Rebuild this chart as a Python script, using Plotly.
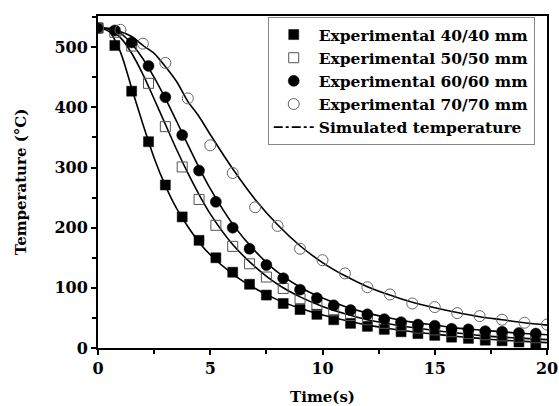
import plotly.graph_objects as go

# Measured cooling data (time in s, temperature in °C)
t_fine = [0, 0.75, 1.5, 2.25, 3.0, 3.75, 4.5, 5.25, 6.0, 6.75, 7.5, 8.25, 9.0, 9.75,
          10.5, 11.25, 12.0, 12.75, 13.5, 14.25, 15.0, 15.75, 16.5, 17.25, 18.0,
          18.75, 19.5]
exp_40 = [532, 503, 427, 343, 271, 218, 179, 150, 126, 106, 88, 74, 64, 56, 47, 41,
          36, 31, 27, 24, 21, 18, 16, 13, 12, 10, 8]
exp_50 = [532, 525, 502, 440, 368, 301, 247, 204, 169, 140, 118, 99, 82, 71, 62, 54,
          47, 41, 37, 33, 30, 27, 24, 22, 20, 18, 17]
exp_60 = [532, 528, 508, 469, 417, 354, 295, 243, 200, 165, 138, 116, 97, 83, 71, 63,
          56, 48, 43, 39, 37, 32, 31, 28, 27, 25, 24]

t_coarse = [0, 1, 2, 3, 4, 5, 6, 7, 8, 9, 10, 11, 12, 13, 14, 15, 16, 17, 18, 19, 20]
exp_70 = [532, 529, 506, 474, 415, 337, 291, 234, 203, 165, 146, 124, 101, 89, 74,
          68, 58, 53, 47, 42, 39]

# Simulated temperature curves
t_sim = [0, 0.5, 1, 1.5, 2, 2.5, 3, 3.5, 4, 4.5, 5, 6, 7, 8, 9, 10, 11, 12, 13, 14,
         15, 16, 17, 18, 19, 20]
sim_40 = [532, 526, 492, 432, 372, 316, 270, 232, 202, 176, 155, 123, 99, 80, 66,
          55, 46, 38, 32, 27, 23, 19, 16, 13, 11, 9]
sim_50 = [532, 530, 516, 490, 455, 414, 372, 330, 291, 255, 223, 172, 135, 106, 85,
          69, 57, 47, 40, 34, 29, 25, 21, 18, 16, 14]
sim_60 = [532, 531, 523, 506, 481, 450, 415, 377, 338, 300, 265, 206, 161, 126, 101,
          83, 69, 58, 50, 43, 38, 33, 30, 27, 24, 22]
sim_70 = [532, 531, 526, 518, 503, 490, 468, 443, 410, 385, 355, 298, 247, 205, 170,
          142, 120, 102, 88, 76, 67, 59, 52, 47, 42, 38]

SERIF = "DejaVu Serif"

fig = go.Figure()

# Simulated curves (solid), legend entry added separately below
for ys in (sim_40, sim_50, sim_60, sim_70):
    fig.add_trace(go.Scatter(
        x=t_sim, y=ys, mode="lines", showlegend=False,
        line=dict(color="black", width=1.6, shape="spline", smoothing=0.8),
        hoverinfo="skip"))

open_line = dict(color="#555555", width=1)
fig.add_trace(go.Scatter(
    x=t_fine, y=exp_40, mode="markers", name="Experimental 40/40 mm",
    marker=dict(symbol="square", size=10, color="black", line=dict(color="black", width=0.5))))
fig.add_trace(go.Scatter(
    x=t_fine, y=exp_50, mode="markers", name="Experimental 50/50 mm",
    marker=dict(symbol="square-open", size=10, color="#555555", line=open_line)))
fig.add_trace(go.Scatter(
    x=t_fine, y=exp_60, mode="markers", name="Experimental 60/60 mm",
    marker=dict(symbol="circle", size=11, color="black", line=dict(color="black", width=0.5))))
fig.add_trace(go.Scatter(
    x=t_coarse, y=exp_70, mode="markers", name="Experimental 70/70 mm",
    marker=dict(symbol="circle-open", size=11, color="#666666", line=open_line)))
fig.add_trace(go.Scatter(
    x=[None], y=[None], mode="lines", name="Simulated temperature",
    line=dict(color="black", width=1.6, dash="dashdot")))

axis_common = dict(
    showline=True, linecolor="black", linewidth=2, mirror=True,
    ticks="outside", ticklen=5, tickwidth=1.5, tickcolor="black",
    showgrid=False, zeroline=False, automargin=False,
    tickfont=dict(family=SERIF, size=16, color="black", weight="bold"),
)

fig.update_xaxes(
    range=[0, 20], tick0=0, dtick=5,
    minor=dict(ticks="outside", ticklen=4, tickwidth=1.5, tickcolor="black", dtick=2.5),
    title=dict(text="Time(s)", font=dict(family=SERIF, size=15, color="black", weight="bold"),
               standoff=14),
    **axis_common)
fig.update_yaxes(
    range=[0, 552], tick0=0, dtick=100,
    minor=dict(ticks="outside", ticklen=4, tickwidth=1.5, tickcolor="black", dtick=50),
    title=dict(text="Temperature (°C)", font=dict(family=SERIF, size=15, color="black", weight="bold"),
               standoff=24),
    **axis_common)

fig.update_layout(
    width=559, height=406,
    margin=dict(l=98, r=12, t=16, b=58),
    paper_bgcolor="white", plot_bgcolor="white",
    legend=dict(
        x=0.378, y=0.997, xanchor="left", yanchor="top",
        bgcolor="white", bordercolor="#888888", borderwidth=1,
        font=dict(family=SERIF, size=15.5, color="black", weight="bold"),
        tracegroupgap=0, itemwidth=40,
    ),
)

fig.write_html("out.html")
